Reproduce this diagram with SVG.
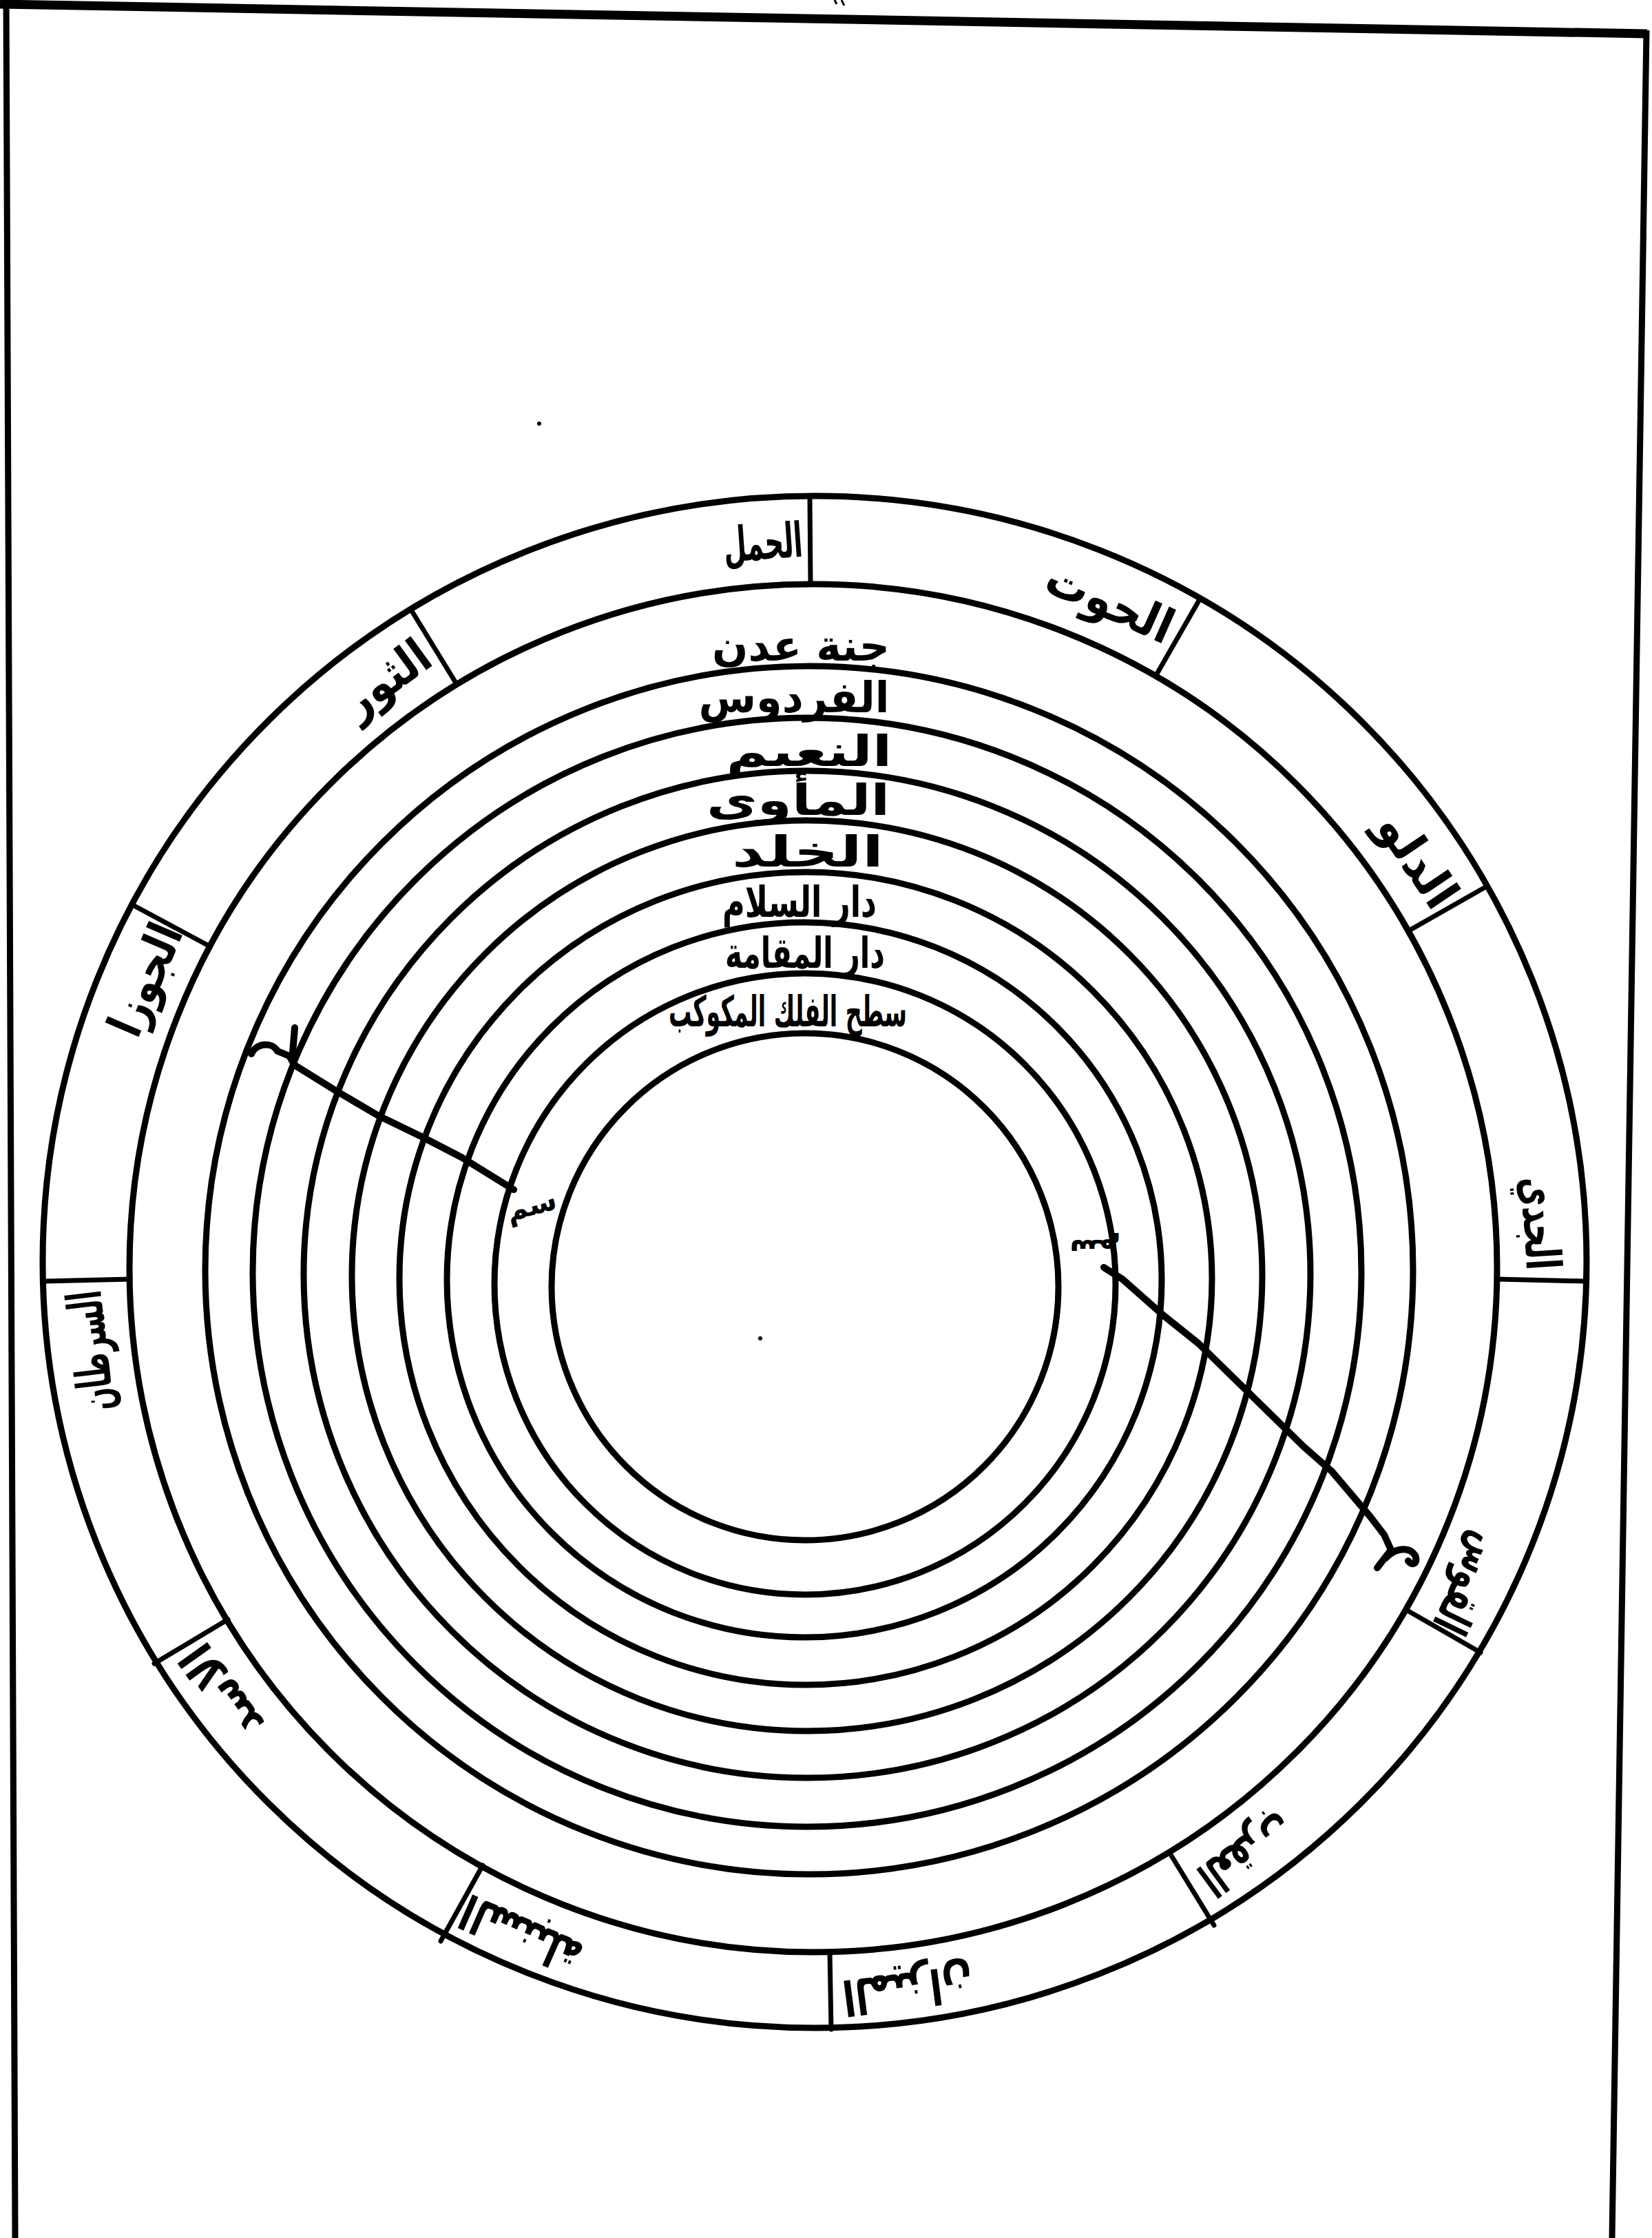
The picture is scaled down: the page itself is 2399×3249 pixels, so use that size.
<svg xmlns="http://www.w3.org/2000/svg" width="2399" height="3249" viewBox="0 0 2399 3249">
<style>
.ring{fill:none;stroke:#000;stroke-width:9}
.div{stroke:#000;stroke-width:7;stroke-linecap:round}
.frame{stroke:#000;fill:none}
.lbl{font-family:"DejaVu Sans",sans-serif;font-weight:bold;font-size:70px;fill:#000;text-anchor:middle}
.rt{font-family:"DejaVu Sans",sans-serif;font-weight:bold;font-size:62px;fill:#000;text-anchor:middle}
.ptr{fill:none;stroke:#000;stroke-width:10;stroke-linecap:round;stroke-linejoin:round}
</style>
<rect width="2399" height="3249" fill="#fff"/>
<g id="frame">
<line class="frame" x1="0" y1="6" x2="2392" y2="49" stroke-width="13"/>
<line class="frame" x1="9" y1="0" x2="22" y2="3249" stroke-width="9"/>
<line class="frame" x1="2391" y1="44" x2="2341" y2="3249" stroke-width="9"/>
<path class="frame" d="M1212,0 L1215,6 M1222,0 L1226,8" stroke-width="3"/>
</g>
<g id="circles">
<ellipse id="c1" class="ring" cx="1183" cy="1832" rx="1121" ry="1112"/>
<circle id="c2" class="ring" cx="1181" cy="1841" r="993"/>
<circle id="c3" class="ring" cx="1175" cy="1844" r="877"/>
<circle id="c4" class="ring" cx="1172" cy="1847" r="805"/>
<circle id="c5" class="ring" cx="1172" cy="1850" r="731"/>
<circle id="c6" class="ring" cx="1172" cy="1852" r="661"/>
<circle id="c7" class="ring" cx="1170" cy="1856" r="590"/>
<circle id="c8" class="ring" cx="1168" cy="1858" r="519"/>
<circle id="c9" class="ring" cx="1169" cy="1864" r="451"/>
<circle id="c10" class="ring" cx="1169" cy="1868" r="368"/>
</g>
<g id="dividers">
<line class="div" x1="1177" y1="847" x2="1176" y2="722"/>
<line class="div" x1="1679" y1="980" x2="1741" y2="872"/>
<line class="div" x1="2046" y1="1351" x2="2155" y2="1289"/>
<line class="div" x1="2175" y1="1857" x2="2302" y2="1860"/>
<line class="div" x1="2042" y1="2337" x2="2150" y2="2399"/>
<line class="div" x1="1698" y1="2689" x2="1763" y2="2795"/>
<line class="div" x1="1205" y1="2833" x2="1207" y2="2946"/>
<line class="div" x1="701" y1="2708" x2="640" y2="2818"/>
<line class="div" x1="331" y1="2351" x2="224" y2="2415"/>
<line class="div" x1="189" y1="1857" x2="64" y2="1860"/>
<line class="div" x1="305" y1="1374" x2="195" y2="1315"/>
<line class="div" x1="663" y1="993" x2="598" y2="887"/>
</g>
<g id="zodiac-labels">
<g id="z-hamal" transform="translate(1108,790) rotate(-4)"><text class="lbl" y="22" textLength="115" lengthAdjust="spacingAndGlyphs">الحمل</text></g>
<g id="z-hut" transform="translate(1611,876) rotate(24)"><text class="lbl" y="22" textLength="195" lengthAdjust="spacingAndGlyphs">الحوت</text></g>
<g id="z-dalw" transform="translate(2057,1250) rotate(56)"><text class="lbl" y="22" textLength="150" lengthAdjust="spacingAndGlyphs">الدلو</text></g>
<g id="z-jady" transform="translate(2235,1776) rotate(86.5)"><text class="lbl" y="22" textLength="135" lengthAdjust="spacingAndGlyphs">الجدي</text></g>
<g id="z-qaws" transform="translate(2132,2299) rotate(115.8)"><text class="lbl" y="22" textLength="150" lengthAdjust="spacingAndGlyphs">القوس</text></g>
<g id="z-aqrab" transform="translate(1808,2689) rotate(143.6)"><text class="lbl" y="22" textLength="150" lengthAdjust="spacingAndGlyphs">العقرب</text></g>
<g id="z-mizan" transform="translate(1318,2886) rotate(172.6)"><text class="lbl" y="22" textLength="190" lengthAdjust="spacingAndGlyphs">الميزان</text></g>
<g id="z-sunbula" transform="translate(758,2806) rotate(203.7)"><text class="lbl" y="22" textLength="185" lengthAdjust="spacingAndGlyphs">السنبلة</text></g>
<g id="z-asad" transform="translate(324,2454) rotate(234.4)"><text class="lbl" y="22" textLength="150" lengthAdjust="spacingAndGlyphs">الاسد</text></g>
<g id="z-sartan" transform="translate(134,1961) rotate(263.4)"><text class="lbl" y="22" textLength="175" lengthAdjust="spacingAndGlyphs">السرطان</text></g>
<g id="z-jawza" transform="translate(213,1423) rotate(-66.7)"><text class="lbl" y="22" textLength="170" lengthAdjust="spacingAndGlyphs">الجوزا</text></g>
<g id="z-thawr" transform="translate(562,987) rotate(-36)"><text class="lbl" y="22" textLength="140" lengthAdjust="spacingAndGlyphs">الثور</text></g>
</g>
<g id="ring-labels">
<text id="r-adn" class="rt" x="1163" y="959" textLength="258" lengthAdjust="spacingAndGlyphs">جنة عدن</text>
<text id="r-firdaws" class="rt" x="1153" y="1034" textLength="277" lengthAdjust="spacingAndGlyphs">الفردوس</text>
<text id="r-naim" class="rt" x="1175" y="1112" textLength="241" lengthAdjust="spacingAndGlyphs">النعيم</text>
<text id="r-mawa" class="rt" x="1159" y="1183" textLength="266" lengthAdjust="spacingAndGlyphs">المأوى</text>
<text id="r-khuld" class="rt" x="1173" y="1258" textLength="220" lengthAdjust="spacingAndGlyphs">الخلد</text>
<text id="r-salam" class="rt" x="1161" y="1331" textLength="224" lengthAdjust="spacingAndGlyphs">دار السلام</text>
<text id="r-muqama" class="rt" x="1169" y="1405" textLength="232" lengthAdjust="spacingAndGlyphs">دار المقامة</text>
<text id="r-falak" class="rt" x="1144" y="1490" textLength="346" lengthAdjust="spacingAndGlyphs">سطح الفلك المكوكب</text>
</g>
<g id="connectors">
<path class="ptr" d="M365,1530 C372,1514 395,1512 403,1526 L420,1533 L429,1547 L487,1583 L550,1620 L612,1650 L670,1680 L746,1727"/>
<path class="ptr" d="M424,1540 L428,1492" stroke-width="7"/>
<path class="ptr" d="M1603,1840 L1630,1857 L1690,1910 L1740,1950 L1893,2100 L1934,2136 L1990,2202 L2010,2228 L2020,2250 L2000,2276 M2012,2262 C2025,2248 2046,2244 2055,2258 C2060,2270 2050,2274 2045,2266"/>
<g id="p1-label" transform="translate(772,1752) rotate(-15)"><text class="lbl" style="font-size:42px" y="12">سم</text></g>
<g id="p2-label" transform="translate(1590,1812) rotate(180)"><text class="lbl" style="font-size:42px" y="12">سم</text></g>
</g>
<circle cx="1104" cy="1943" r="3" fill="#000"/>
<circle cx="783" cy="615" r="3" fill="#000"/>
</svg>
